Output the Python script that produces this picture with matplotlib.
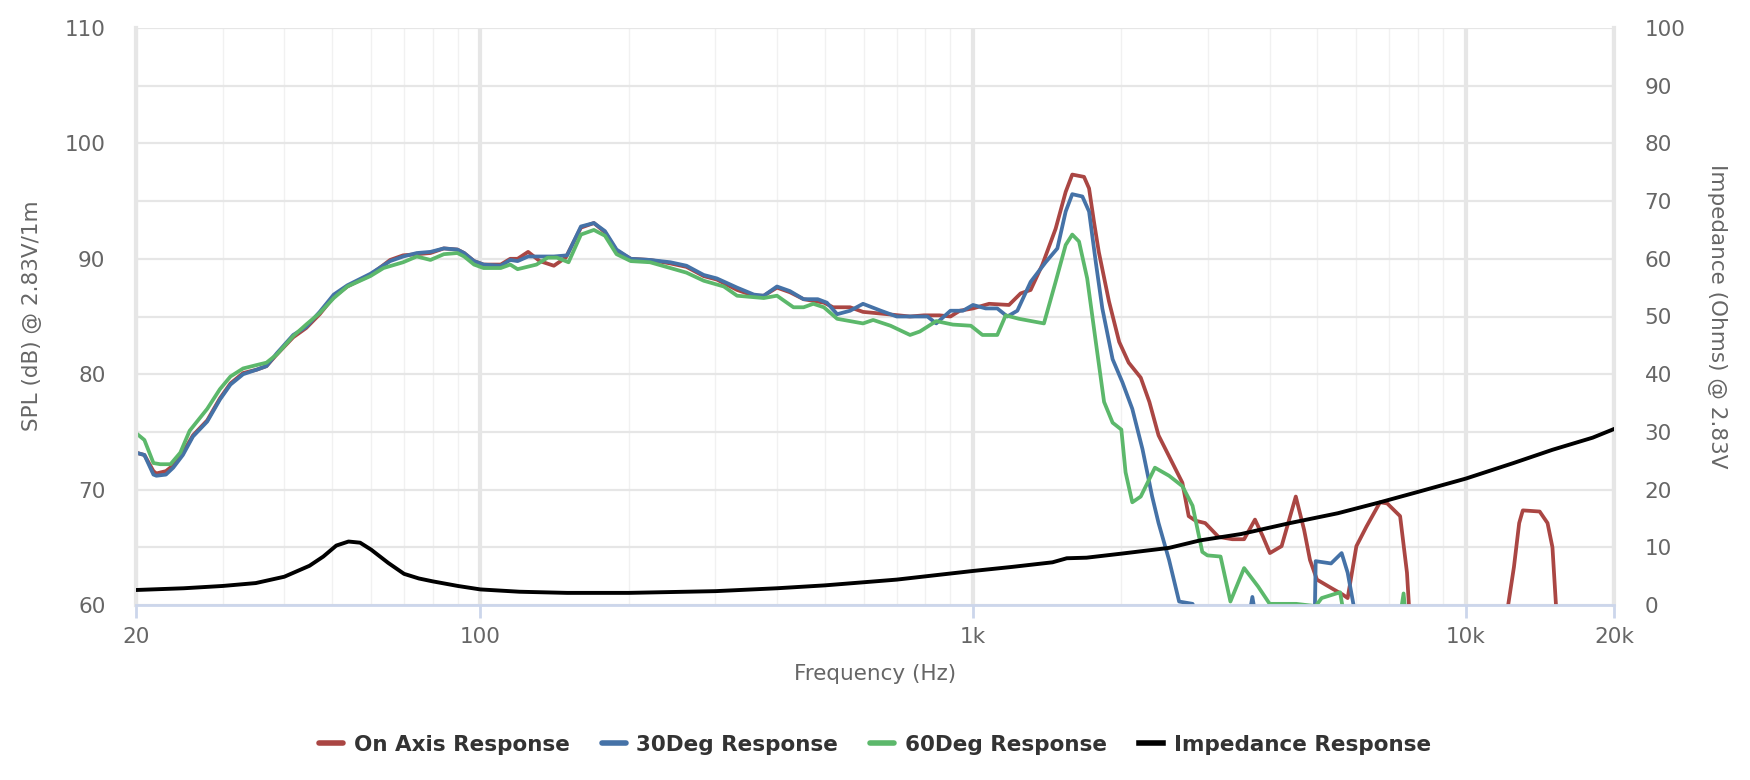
import numpy as np
import matplotlib.pyplot as plt
from matplotlib.ticker import FixedLocator, NullFormatter, MultipleLocator

nan = np.nan

# On axis response (Hz, dB)
on_axis_freq = [20, 20.8, 21.7, 22.0, 23.0, 23.8, 24.9, 26.1, 27.9, 29.6, 31.1, 33.0, 35.2, 36.8, 38.6,
                41.7, 44.3, 47.2, 50.4, 53.7, 59.8, 65.6, 69.7, 74.3, 79.2, 84.3, 89.8, 92.7, 97.1, 101.5,
                110, 115, 119, 125, 132, 141, 149, 160, 170, 179, 189, 202, 221, 243, 262, 284, 302, 332,
                359, 376, 400, 425, 453, 498, 520, 563, 598, 670, 745, 795, 855, 900, 940, 1000, 1078,
                1183, 1249, 1309, 1383, 1471, 1542, 1590, 1680, 1720, 1760, 1800, 1888, 1980, 2070, 2190,
                2280, 2380, 2540, 2660, 2740, 2830, 2960, 3150, 3360, 3550, 3735, 3870, 4005, 4230, 4520,
                4700, 4830, 4990, 5370, 5630, 5760, 6000, 6290, 6700, 6930, 7360, 7600, 7720, 7800,
                11900, 12530, 12840, 13060, 14130, 14660, 15000, 15300, 15450]
on_axis_db = [73.2, 73.0, 71.6, 71.4, 71.6, 72.1, 73.2, 74.7, 76.0, 77.9, 79.2, 80.1, 80.4, 80.7, 81.7,
              83.2, 84.0, 85.2, 86.7, 87.6, 88.6, 89.9, 90.3, 90.4, 90.5, 90.9, 90.8, 90.5, 89.8, 89.5,
              89.5, 90.0, 90.0, 90.6, 89.8, 89.4, 90.1, 92.7, 93.1, 92.3, 90.7, 90.0, 89.9, 89.6, 89.3,
              88.5, 88.2, 87.3, 86.8, 86.8, 87.5, 87.1, 86.5, 86.2, 85.8, 85.8, 85.4, 85.2, 85.0, 85.1,
              85.1, 85.0, 85.5, 85.7, 86.1, 86.0, 87.0, 87.3, 89.5, 92.6, 95.8, 97.3, 97.1, 96.1, 93.2,
              90.6, 86.3, 82.8, 81.0, 79.7, 77.6, 74.7, 72.3, 70.6, 67.7, 67.3, 67.1, 65.9, 65.7, 65.7,
              67.4, 66.0, 64.5, 65.1, 69.4, 66.5, 63.9, 62.2, 61.4, 60.9, 60.6, 65.1, 66.8, 68.9, 68.8,
              67.7, 62.8, 58.0, nan,
              57.0, 63.3, 67.1, 68.2, 68.1, 67.1, 65.0, 59.0, 56.0]

# 30 degree response (Hz, dB)
deg30_freq = [20, 20.8, 21.7, 22.0, 23.0, 23.8, 24.9, 26.1, 27.9, 29.6, 31.1, 33.0, 35.2, 36.8, 38.6,
              41.7, 44.3, 47.2, 50.4, 53.7, 59.8, 65.6, 69.7, 74.3, 79.2, 84.3, 89.8, 92.7, 97.1, 101.5,
              110, 115, 119, 125, 141, 150, 160, 170, 179, 189, 202, 221, 243, 262, 284, 302, 332, 359,
              376, 400, 425, 453, 484, 505, 530, 563, 598, 650, 700, 757, 808, 842, 900, 954, 1000, 1061,
              1120, 1174, 1230, 1309, 1404, 1483, 1542, 1590, 1667, 1720, 1775, 1830, 1920, 2010, 2105,
              2208, 2310, 2380, 2500, 2620, 2790, 2900, 2950,
              3600, 3690, 3780, 3800,
              4930, 4960, 5330, 5600, 5760, 5950, 6050]
deg30_db = [73.2, 73.0, 71.3, 71.2, 71.3, 71.9, 73.0, 74.6, 75.9, 77.8, 79.1, 80.0, 80.4, 80.7, 81.8,
            83.4, 84.1, 85.4, 86.9, 87.7, 88.7, 89.8, 90.2, 90.5, 90.6, 90.9, 90.8, 90.5, 89.8, 89.5,
            89.4, 89.9, 89.8, 90.2, 90.2, 90.3, 92.8, 93.1, 92.4, 90.8, 90.0, 89.9, 89.7, 89.4, 88.6,
            88.3, 87.5, 86.9, 86.8, 87.6, 87.2, 86.5, 86.5, 86.2, 85.2, 85.5, 86.1, 85.5, 85.0, 85.0,
            85.0, 84.4, 85.5, 85.5, 86.0, 85.7, 85.7, 85.0, 85.5, 88.0, 89.7, 90.9, 94.1, 95.6, 95.4,
            94.1, 89.7, 85.7, 81.3, 79.3, 77.0, 73.5, 69.4, 67.1, 63.9, 60.3, 60.1, 58.0, nan,
            58.0, 60.7, 58.0, nan,
            57.0, 63.8, 63.6, 64.5, 62.8, 59.5, 56.0]

# 60 degree response (Hz, dB)
deg60_freq = [20, 20.8, 21.7, 22.4, 23.5, 24.6, 25.7, 27.9, 29.6, 31.1, 33.0, 35.2, 36.8, 38.6, 41.7,
              44.3, 47.2, 50.4, 53.7, 59.8, 63.6, 69.7, 74.3, 79.2, 84.3, 89.8, 92.7, 97.1, 101.5, 110,
              115, 119, 130, 137, 143, 151, 160, 170, 179, 189, 202, 221, 243, 262, 284, 312, 332, 376,
              400, 432, 453, 474, 498, 530, 598, 627, 680, 745, 780, 842, 910, 990, 1045, 1120, 1165,
              1240, 1393, 1471, 1542, 1590, 1641, 1705, 1775, 1845, 1920, 2000, 2040, 2105, 2190, 2340,
              2500, 2660, 2790, 2920, 2990, 3180, 3330, 3550, 3790, 4000, 4530, 4960, 5100, 5560, 5720,
              5760,
              7300, 7480, 7600]
deg60_db = [74.9, 74.3, 72.3, 72.2, 72.2, 73.2, 75.1, 77.0, 78.7, 79.8, 80.5, 80.8, 81.0, 81.7, 83.3,
            84.3, 85.3, 86.6, 87.6, 88.5, 89.2, 89.7, 90.2, 89.9, 90.4, 90.5, 90.2, 89.5, 89.2, 89.2,
            89.5, 89.1, 89.5, 90.1, 90.1, 89.7, 92.1, 92.5, 92.0, 90.4, 89.8, 89.7, 89.2, 88.8, 88.1,
            87.6, 86.8, 86.6, 86.8, 85.8, 85.8, 86.1, 85.8, 84.8, 84.4, 84.7, 84.2, 83.4, 83.7, 84.6,
            84.3, 84.2, 83.4, 83.4, 85.1, 84.8, 84.4, 88.0, 91.2, 92.1, 91.5, 88.3, 82.8, 77.6, 75.8,
            75.2, 71.5, 68.9, 69.4, 71.9, 71.2, 70.3, 68.6, 64.6, 64.3, 64.2, 60.3, 63.2, 61.6, 60.1,
            60.1, 59.9, 60.6, 61.1, 58.0, nan,
            58.0, 61.0, 58.0]

# Impedance (Hz, Ohms)
imp_freq = [20, 25, 30, 35, 40, 45, 48, 51, 54, 57, 60, 65, 70, 75, 80, 90, 100, 120, 150, 200, 300,
            400, 500, 700, 1000, 1200, 1450, 1550, 1700, 2000, 2500, 2890, 3500, 4400, 5500, 6700,
            8000, 10000, 12500, 15000, 18100, 20000]
imp_ohm = [2.6, 2.9, 3.3, 3.8, 4.9, 6.8, 8.4, 10.3, 11.0, 10.8, 9.6, 7.3, 5.4, 4.6, 4.1, 3.3, 2.7, 2.3,
           2.1, 2.1, 2.4, 2.9, 3.4, 4.4, 5.9, 6.6, 7.4, 8.1, 8.2, 8.9, 9.9, 11.2, 12.3, 14.2, 15.9, 17.8,
           19.6, 21.9, 24.6, 26.9, 29.0, 30.5]

x_ticks = [20, 100, 1000, 10000, 20000]
x_labels = ['20', '100', '1k', '10k', '20k']
x_minor = [30, 40, 50, 60, 70, 80, 90, 200, 300, 400, 500, 600, 700, 800, 900,
           2000, 3000, 4000, 5000, 6000, 7000, 8000, 9000]

plt.rcParams['font.family'] = ['DejaVu Sans']
grey = '#666666'
grid = '#e6e6e6'

fig = plt.figure(figsize=(17.5, 7.8), dpi=100)
ax = fig.add_axes([136 / 1750, 175 / 780, 1478 / 1750, 577 / 780])
ax.set_xscale('log')
ax.set_xlim(20, 20000)
ax.set_ylim(60, 110)
ax.set_xticks(x_ticks)
ax.set_xticklabels(x_labels)
ax.xaxis.set_minor_locator(FixedLocator(x_minor))
ax.xaxis.set_minor_formatter(NullFormatter())
ax.set_yticks(range(60, 111, 10))
ax.yaxis.set_minor_locator(MultipleLocator(5))
ax.set_axisbelow(True)
ax.grid(axis='y', which='both', color=grid, lw=1.6)
ax.grid(axis='x', which='major', color=grid, lw=3)
ax.grid(axis='x', which='minor', color='#f1f1f1', lw=1)

ax.spines['top'].set_visible(False)
for s in ['left', 'right']:
    ax.spines[s].set_color(grid)
    ax.spines[s].set_linewidth(3)
ax.spines['bottom'].set_color('#ccd6eb')
ax.spines['bottom'].set_linewidth(2)
ax.tick_params(axis='x', which='major', length=9, width=2, color='#ccd6eb',
               labelsize=15.5, labelcolor=grey, pad=7)
ax.tick_params(axis='x', which='minor', length=0)
ax.tick_params(axis='y', which='both', length=0, labelsize=15.5, labelcolor=grey, pad=22)

lw = 2.7
l1, = ax.plot(on_axis_freq, on_axis_db, color='#aa4643', lw=lw, solid_joinstyle='round',
              solid_capstyle='round', label='On Axis Response')
l2, = ax.plot(deg30_freq, deg30_db, color='#4572a7', lw=lw, solid_joinstyle='round',
              solid_capstyle='round', label='30Deg Response')
l3, = ax.plot(deg60_freq, deg60_db, color='#5cb86b', lw=lw, solid_joinstyle='round',
              solid_capstyle='round', label='60Deg Response')

ax2 = ax.twinx()
ax2.set_ylim(0, 100)
ax2.set_yticks(range(0, 101, 10))
for s in ax2.spines.values():
    s.set_visible(False)
ax2.tick_params(axis='y', length=0, labelsize=15.5, labelcolor=grey, pad=22)
l4, = ax2.plot(imp_freq, imp_ohm, color='black', lw=2.8, solid_joinstyle='round',
               label='Impedance Response')

fig.text(32 / 1750, 1 - 316 / 780, 'SPL (dB) @ 2.83V/1m', rotation=90, ha='center', va='center',
         size=15.5, color=grey)
fig.text(1717 / 1750, 1 - 316 / 780, 'Impedance (Ohms) @ 2.83V', rotation=270, ha='center',
         va='center', size=15.5, color=grey)
fig.text(875 / 1750, 1 - 674 / 780, 'Frequency (Hz)', ha='center', va='center', size=15.5, color=grey)

leg = fig.legend([l1, l2, l3, l4], [l.get_label() for l in (l1, l2, l3, l4)], loc='center',
                 bbox_to_anchor=(875 / 1750, 1 - 745 / 780), ncol=4, frameon=False,
                 prop={'weight': 'bold', 'size': 15.5}, handlelength=1.1, handletextpad=0.5,
                 columnspacing=1.5)
for t in leg.get_texts():
    t.set_color('#333333')
for h in leg.legend_handles:
    h.set_linewidth(4)

fig.savefig('out.png', dpi=100)
